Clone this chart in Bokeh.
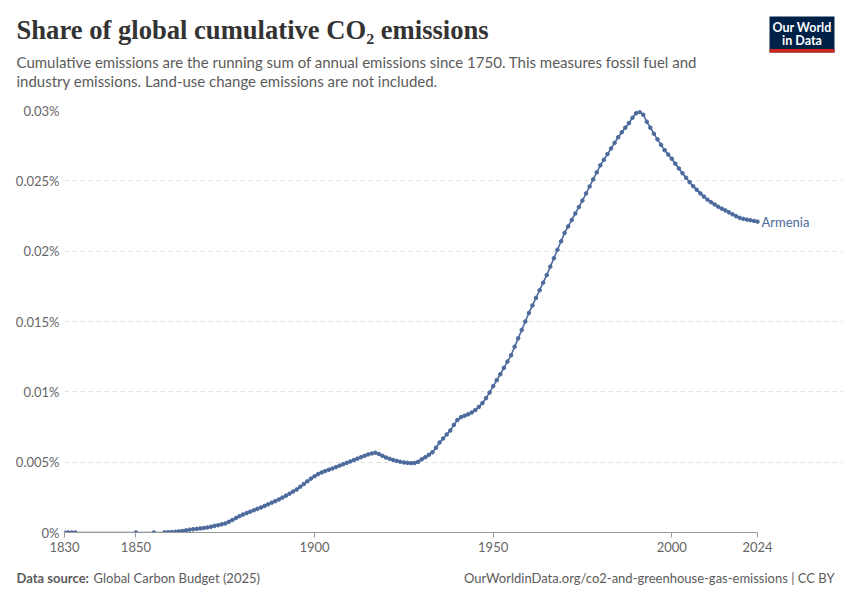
from bokeh.plotting import figure
from bokeh.models import FixedTicker, Range1d
from bokeh.embed import file_html
from bokeh.resources import INLINE
from bokeh.core.properties import value

# ---------------- data ----------------
country = "Armenia"
early_years = [1830, 1831, 1832, 1833, 1850, 1855]
early_values = [0.0, 0.0, 0.0, 0.0, 0.0, 0.0]
main_years = list(range(1858, 2025))
main_values = [
    0.00001, 0.00002, 0.00003, 0.00005, 0.00008, 0.00011, 0.00015,            # 1858-1864
    0.0002, 0.00023, 0.00026, 0.00029, 0.00032,                               # 1865-1869
    0.00036, 0.00041, 0.00047, 0.00052, 0.00058,                              # 1870-1874
    0.00064, 0.00076, 0.00089, 0.00103, 0.00116,                              # 1875-1879
    0.00128, 0.00138, 0.00148, 0.00158, 0.00168,                              # 1880-1884
    0.00178, 0.00189, 0.002, 0.00212, 0.00223,                                # 1885-1889
    0.00235, 0.00248, 0.00262, 0.00276, 0.00291,                              # 1890-1894
    0.00306, 0.00325, 0.00345, 0.00364, 0.00383,                              # 1895-1899
    0.004, 0.00415, 0.00427, 0.00437, 0.00446,                                # 1900-1904
    0.00455, 0.00465, 0.00475, 0.00485, 0.00495,                              # 1905-1909
    0.00505, 0.00515, 0.00525, 0.00535, 0.00545,                              # 1910-1914
    0.00555, 0.00562, 0.00567, 0.00558, 0.00545,                              # 1915-1919
    0.00533, 0.00524, 0.00516, 0.00509, 0.00503,                              # 1920-1924
    0.00498, 0.00495, 0.00493, 0.00494, 0.00502,                              # 1925-1929
    0.0052, 0.00535, 0.00552, 0.0057, 0.00603,                                # 1930-1934
    0.0064, 0.00668, 0.00697, 0.00725, 0.00765,                               # 1935-1939
    0.008, 0.0082, 0.0083, 0.0084, 0.00853,                                   # 1940-1944
    0.0087, 0.00893, 0.0092, 0.00955, 0.00995,                                # 1945-1949
    0.0104, 0.01083, 0.01125, 0.0117, 0.01215,                                # 1950-1954
    0.0126, 0.0132, 0.0138, 0.0144, 0.015,                                    # 1955-1959
    0.0156, 0.01614, 0.01668, 0.01722, 0.01776,                               # 1960-1964
    0.0183, 0.0189, 0.0195, 0.0201, 0.0207,                                   # 1965-1969
    0.0213, 0.02176, 0.02222, 0.02268, 0.02314,                               # 1970-1974
    0.0236, 0.0241, 0.0246, 0.0251, 0.0256,                                   # 1975-1979
    0.0261, 0.0265, 0.0269, 0.0273, 0.0277,                                   # 1980-1984
    0.0281, 0.02845, 0.02878, 0.0291, 0.02948,                                # 1985-1989
    0.0298, 0.0299, 0.0297, 0.0292, 0.02878,                                  # 1990-1994
    0.02835, 0.02795, 0.02756, 0.02718, 0.02687,                              # 1995-1999
    0.02657, 0.02622, 0.02588, 0.02554, 0.02522,                              # 2000-2004
    0.0249, 0.02462, 0.02436, 0.02411, 0.02388,                               # 2005-2009
    0.02366, 0.02348, 0.02332, 0.02316, 0.02302,                              # 2010-2014
    0.0229, 0.02276, 0.02262, 0.02249, 0.02237,                               # 2015-2019
    0.0223, 0.02224, 0.0222, 0.02215, 0.0221,                                 # 2020-2024
]
years = early_years + main_years
values = early_values + main_values

x_ticks = [1830, 1850, 1900, 1950, 2000, 2024]
y_ticks = [0, 0.005, 0.01, 0.015, 0.02, 0.025, 0.03]
y_tick_labels = ["0%", "0.005%", "0.01%", "0.015%", "0.02%", "0.025%", "0.03%"]

title_text = "Share of global cumulative CO\u2082 emissions"
subtitle_lines = [
    "Cumulative emissions are the running sum of annual emissions since 1750. This measures fossil fuel and",
    "industry emissions. Land-use change emissions are not included.",
]
source_bold = "Data source:"
source_text = "Global Carbon Budget (2025)"
url_text = "OurWorldinData.org/co2-and-greenhouse-gas-emissions | CC BY"
logo_lines = ["Our World", "in Data"]

# ---------------- layout ----------------
W = 842
HEAD_H, MAIN_H, FOOT_H = 100, 460, 32
F_LEFT, F_RIGHT_DATA, F_TOP, F_BOTTOM = 64, 757, 110, 532   # page px of the data frame
LINE = "#4C6A9C"
GREY = "#5b5b5b"
FONT = "Lato"


def blank(h):
    f = figure(width=W, height=h, output_backend="svg", toolbar_location=None,
               x_range=Range1d(0, W), y_range=Range1d(h, 0),
               x_axis_location=None, y_axis_location=None,
               min_border=0, min_border_left=0, min_border_right=0,
               min_border_top=0, min_border_bottom=0,
               outline_line_color=None, background_fill_color="white", border_fill_color="white")
    f.grid.visible = False
    return f


def txt(f, x, y, s, size, color=GREY, font=FONT, style="normal", align="left", baseline="middle"):
    f.text(x=[x], y=[y], text=[s], text_font=value(font), text_font_size=size,
           text_color=color, text_font_style=style, text_align=align, text_baseline=baseline)


# header
head = blank(HEAD_H)
txt(head, 16, 29, title_text, "26.6px", color="#333333", font="Liberation Serif", style="bold")
txt(head, 16, 61, subtitle_lines[0], "15px")
txt(head, 16, 80, subtitle_lines[1], "15px")
head.quad(left=[769], right=[834], top=[16], bottom=[52], fill_color="#002147", line_color=None)
head.quad(left=[769], right=[834], top=[48.5], bottom=[52], fill_color="#ce261e", line_color=None)
txt(head, 801.5, 27, logo_lines[0], "12.5px", color="white", style="bold", align="center")
txt(head, 801.5, 40, logo_lines[1], "12.5px", color="white", style="bold", align="center")

# main chart
px_per_year = (F_RIGHT_DATA - F_LEFT) / (x_ticks[-1] - x_ticks[0])
x_end = x_ticks[-1] + (W - F_RIGHT_DATA) / px_per_year

p = figure(width=W, height=MAIN_H, output_backend="svg", toolbar_location=None,
           x_range=Range1d(x_ticks[0], x_end), y_range=Range1d(y_ticks[0], y_ticks[-1]),
           min_border_left=F_LEFT, min_border_right=0,
           min_border_top=F_TOP - HEAD_H, min_border_bottom=HEAD_H + MAIN_H - F_BOTTOM,
           background_fill_color="white", border_fill_color="white", outline_line_color=None)

p.line(years, values, line_color=LINE, line_width=1.6)
p.scatter(years, values, size=3.6, fill_color=LINE, line_color=LINE)
p.text(x=[years[-1]], y=[values[-1]], text=[country], x_offset=4,
       text_font=value(FONT), text_font_size="13px", text_color=LINE,
       text_baseline="middle", text_align="left")

xa = p.xaxis[0]
xa.ticker = FixedTicker(ticks=x_ticks)
xa.bounds = (x_ticks[0], x_ticks[-1])
xa.minor_tick_line_color = None
xa.axis_line_color = "#999999"
xa.major_tick_line_color = "#999999"
xa.major_tick_out = 5
xa.major_tick_in = 0
xa.major_label_standoff = 4
xa.major_label_text_font = FONT
xa.major_label_text_font_size = "13px"
xa.major_label_text_color = "#666666"

ya = p.yaxis[0]
ya.ticker = FixedTicker(ticks=y_ticks)
ya.major_label_overrides = {t: l for t, l in zip(y_ticks, y_tick_labels)}
ya.axis_line_color = None
ya.major_tick_line_color = None
ya.minor_tick_line_color = None
ya.major_tick_out = 0
ya.major_label_standoff = 5
ya.major_label_text_font = FONT
ya.major_label_text_font_size = "13px"
ya.major_label_text_color = "#666666"

p.xgrid.grid_line_color = None
p.ygrid.grid_line_color = "#dddddd"
p.ygrid.grid_line_dash = "4 4"
p.ygrid.grid_line_width = 1
p.ygrid.bounds = (x_ticks[0], x_ticks[-1])

# footer
foot = blank(FOOT_H)
txt(foot, 16, 17, source_bold, "13px", style="bold")
txt(foot, 93, 17, source_text, "13px")
txt(foot, 834, 17, url_text, "13px", align="right")

open("out.html", "w").write(file_html([head, p, foot], INLINE))
